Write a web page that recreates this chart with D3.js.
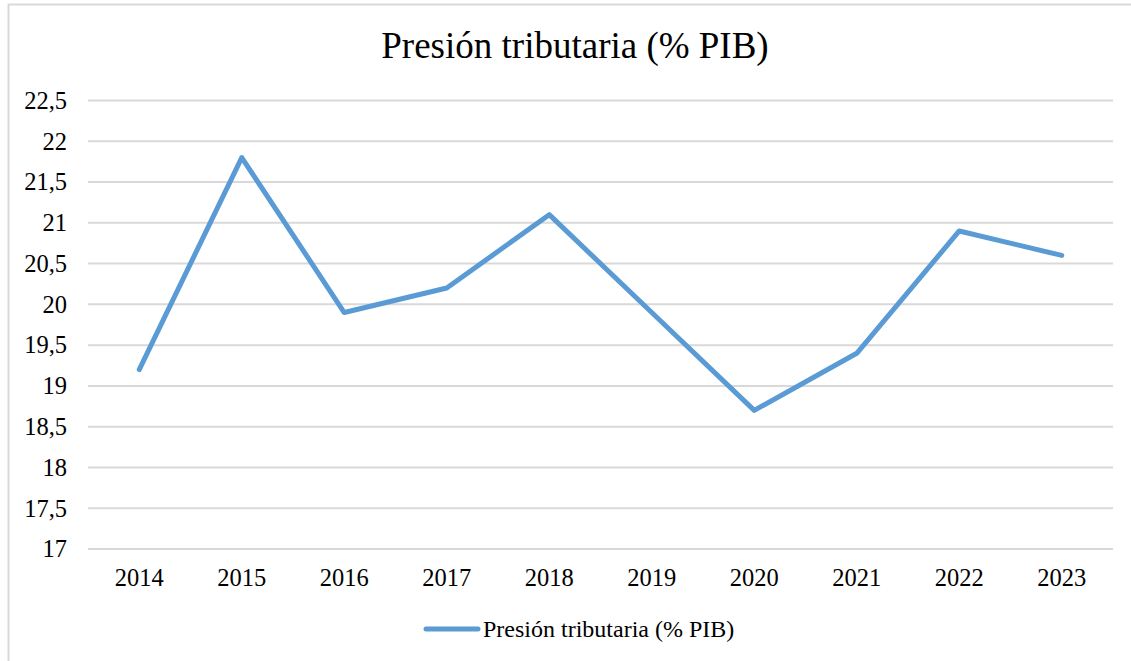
<!DOCTYPE html>
<html>
<head>
<meta charset="utf-8">
<title>Presión tributaria</title>
<script src="https://cdn.jsdelivr.net/npm/d3@7"></script>
<style>
  body { margin: 0; background: #fff; }
  text { font-family: "Liberation Serif", "Times New Roman", serif; fill: #000; }
</style>
</head>
<body>
<div id="chart"></div>
<script>
// data
var years = ["2014", "2015", "2016", "2017", "2018", "2019", "2020", "2021", "2022", "2023"];
var presion = [19.2, 21.8, 19.9, 20.2, 21.1, 19.9, 18.7, 19.4, 20.9, 20.6];
var yTicks = [17, 17.5, 18, 18.5, 19, 19.5, 20, 20.5, 21, 21.5, 22, 22.5];
var titulo = "Presión tributaria (% PIB)";

var W = 1131, H = 661;
var plotL = 88, plotR = 1113, plotT = 100.5, plotB = 549;
var blue = "#5b9bd5";

var svg = d3.select("#chart").append("svg")
    .attr("width", W).attr("height", H);

// outer chart border
svg.append("rect")
    .attr("x", 8.5).attr("y", 4.5)
    .attr("width", W).attr("height", H)
    .attr("fill", "none").attr("stroke", "#d9d9d9").attr("stroke-width", 2);

var x = d3.scaleBand().domain(years).range([plotL, plotR]);
var y = d3.scaleLinear().domain([17, 22.5]).range([plotB, plotT]);

// gridlines
svg.append("g").selectAll("line")
    .data(yTicks).enter().append("line")
    .attr("x1", plotL).attr("x2", plotR)
    .attr("y1", function(d) { return y(d); })
    .attr("y2", function(d) { return y(d); })
    .attr("stroke", "#d9d9d9").attr("stroke-width", 2);

// y labels
var fmt = function(d) { return String(d).replace(".", ","); };
svg.append("g").selectAll("text")
    .data(yTicks).enter().append("text")
    .attr("x", 67)
    .attr("y", function(d) { return y(d); })
    .attr("dy", "0.34em")
    .attr("text-anchor", "end")
    .style("font-size", "24.5px")
    .text(fmt);

// x labels
svg.append("g").selectAll("text")
    .data(years).enter().append("text")
    .attr("x", function(d) { return x(d) + x.bandwidth() / 2; })
    .attr("y", 586)
    .attr("text-anchor", "middle")
    .style("font-size", "24.5px")
    .text(function(d) { return d; });

// the line
var line = d3.line()
    .x(function(d, i) { return x(years[i]) + x.bandwidth() / 2; })
    .y(function(d) { return y(d); });

svg.append("path")
    .datum(presion)
    .attr("d", line)
    .attr("fill", "none")
    .attr("stroke", blue)
    .attr("stroke-width", 5)
    .attr("stroke-linejoin", "round")
    .attr("stroke-linecap", "round");

// title
svg.append("text")
    .attr("x", 575).attr("y", 58)
    .attr("text-anchor", "middle")
    .style("font-size", "37px")
    .text(titulo);

// legend
svg.append("line")
    .attr("x1", 426).attr("x2", 478)
    .attr("y1", 629).attr("y2", 629)
    .attr("stroke", blue).attr("stroke-width", 5)
    .attr("stroke-linecap", "round");
svg.append("text")
    .attr("x", 483).attr("y", 637)
    .style("font-size", "24px")
    .text(titulo);
</script>
</body>
</html>
